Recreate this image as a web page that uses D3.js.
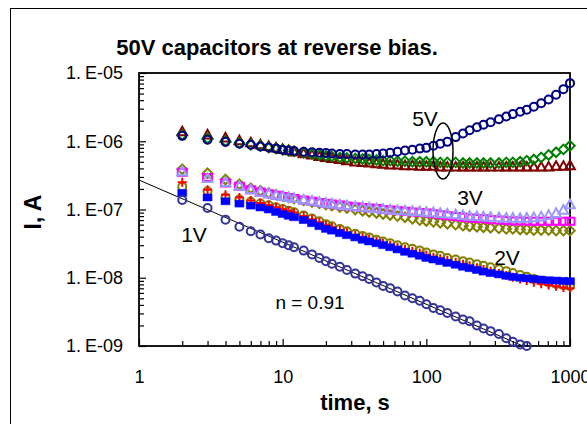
<!DOCTYPE html>
<html>
<head>
  <script src="https://cdn.jsdelivr.net/npm/d3@7"></script>
  <style>
    body { margin: 0; background: white; }
    svg text { font-family: Arial, "Liberation Sans", sans-serif; fill: black; }
  </style>
</head>
<body>
  <script>
    // measurement times, s
    const times = [2, 3, 4, 5, 6, 7, 8, 9, 10, 11, 12, 14, 16, 18, 20, 22, 25, 28, 32, 36, 40, 45, 50, 56, 63, 71, 80, 90,
      100, 112, 125, 140, 160, 180, 200, 225, 250, 280, 320, 360, 400, 450, 500, 560, 630, 710, 800, 900, 1000]

    // 5V
    const v5Circles = [1.2e-6, 1.05e-6, 9.8e-7, 9.2e-7, 8.9e-7, 8.4e-7, 8.1e-7, 7.8e-7, 7.5e-7, 7.3e-7, 7.2e-7, 7.0e-7, 6.9e-7, 6.8e-7,
      6.7e-7, 6.6e-7, 6.5e-7, 6.5e-7, 6.4e-7, 6.4e-7, 6.4e-7, 6.5e-7, 6.6e-7, 6.8e-7, 7.0e-7, 7.3e-7, 7.5e-7, 7.8e-7,
      8.0e-7, 8.6e-7, 9.2e-7, 9.8e-7, 1.15e-6, 1.3e-6, 1.45e-6, 1.6e-6, 1.75e-6, 1.9e-6, 2.1e-6, 2.3e-6, 2.5e-6, 2.7e-6,
      2.9e-6, 3.2e-6, 3.6e-6, 4.1e-6, 4.8e-6, 5.8e-6, 7.1e-6]
    const v5Diamonds = [1.24e-6, 1.1e-6, 1.0e-6, 9.4e-7, 8.9e-7, 8.5e-7, 8.1e-7, 7.8e-7, 7.5e-7, 7.3e-7, 7.1e-7, 6.8e-7, 6.5e-7, 6.3e-7,
      6.1e-7, 6.0e-7, 5.8e-7, 5.7e-7, 5.6e-7, 5.5e-7, 5.4e-7, 5.3e-7, 5.2e-7, 5.2e-7, 5.1e-7, 5.1e-7, 5.0e-7, 5.0e-7,
      5.0e-7, 5.0e-7, 4.9e-7, 4.9e-7, 4.9e-7, 4.8e-7, 4.8e-7, 4.8e-7, 4.8e-7, 4.8e-7, 4.8e-7, 4.9e-7, 4.9e-7, 5.0e-7,
      5.2e-7, 5.4e-7, 5.8e-7, 6.3e-7, 6.9e-7, 7.6e-7, 8.6e-7]
    const v5Triangles = [1.38e-6, 1.24e-6, 1.12e-6, 1.02e-6, 9.5e-7, 8.9e-7, 8.4e-7, 8.0e-7, 7.6e-7, 7.3e-7, 7.0e-7, 6.6e-7, 6.3e-7, 6.0e-7,
      5.8e-7, 5.6e-7, 5.4e-7, 5.2e-7, 5.0e-7, 4.9e-7, 4.8e-7, 4.7e-7, 4.6e-7, 4.5e-7, 4.5e-7, 4.4e-7, 4.4e-7, 4.3e-7,
      4.3e-7, 4.3e-7, 4.2e-7, 4.2e-7, 4.2e-7, 4.2e-7, 4.2e-7, 4.2e-7, 4.2e-7, 4.2e-7, 4.2e-7, 4.2e-7, 4.2e-7, 4.2e-7,
      4.2e-7, 4.2e-7, 4.2e-7, 4.2e-7, 4.3e-7, 4.3e-7, 4.4e-7]

    // 3V
    const v3Squares = [3.5e-7, 2.95e-7, 2.45e-7, 2.2e-7, 1.95e-7, 1.8e-7, 1.7e-7, 1.62e-7, 1.55e-7, 1.5e-7, 1.45e-7, 1.38e-7, 1.32e-7, 1.27e-7,
      1.23e-7, 1.2e-7, 1.16e-7, 1.13e-7, 1.1e-7, 1.07e-7, 1.05e-7, 1.03e-7, 1.0e-7, 9.8e-8, 9.6e-8, 9.4e-8, 9.2e-8, 9.0e-8,
      8.9e-8, 8.7e-8, 8.4e-8, 8.1e-8, 7.9e-8, 7.7e-8, 7.5e-8, 7.4e-8, 7.3e-8, 7.1e-8, 7.0e-8, 6.9e-8, 6.8e-8, 6.8e-8,
      6.7e-8, 6.7e-8, 6.7e-8, 6.7e-8, 6.7e-8, 6.7e-8, 6.7e-8]
    const v3Triangles = [3.6e-7, 2.85e-7, 2.5e-7, 2.2e-7, 1.95e-7, 1.8e-7, 1.7e-7, 1.62e-7, 1.55e-7, 1.5e-7, 1.45e-7, 1.38e-7, 1.33e-7, 1.28e-7,
      1.24e-7, 1.21e-7, 1.17e-7, 1.14e-7, 1.1e-7, 1.08e-7, 1.06e-7, 1.03e-7, 1.01e-7, 9.9e-8, 9.7e-8, 9.6e-8, 9.4e-8, 9.3e-8,
      9.1e-8, 9.0e-8, 8.8e-8, 8.6e-8, 8.4e-8, 8.2e-8, 8.0e-8, 7.9e-8, 7.8e-8, 7.7e-8, 7.6e-8, 7.5e-8, 7.5e-8, 7.4e-8,
      7.5e-8, 7.6e-8, 7.8e-8, 8.2e-8, 8.8e-8, 9.8e-8, 1.18e-7]
    const v3Diamonds = [3.9e-7, 3.4e-7, 2.75e-7, 2.35e-7, 2.05e-7, 1.88e-7, 1.75e-7, 1.65e-7, 1.57e-7, 1.5e-7, 1.45e-7, 1.36e-7, 1.29e-7, 1.23e-7,
      1.18e-7, 1.14e-7, 1.09e-7, 1.05e-7, 1.0e-7, 9.6e-8, 9.2e-8, 8.9e-8, 8.6e-8, 8.3e-8, 8.0e-8, 7.7e-8, 7.3e-8, 7.0e-8,
      6.8e-8, 6.6e-8, 6.4e-8, 6.2e-8, 6.0e-8, 5.8e-8, 5.7e-8, 5.6e-8, 5.5e-8, 5.4e-8, 5.3e-8, 5.2e-8, 5.2e-8, 5.1e-8,
      5.1e-8, 5.0e-8, 5.0e-8, 5.0e-8, 4.9e-8, 4.9e-8, 4.9e-8]

    // 2V
    const v2Squares = [1.75e-7, 1.5e-7, 1.32e-7, 1.22e-7, 1.14e-7, 1.07e-7, 1.0e-7, 9.2e-8, 8.6e-8, 8.1e-8, 7.7e-8, 7.0e-8, 6.3e-8, 5.7e-8,
      5.2e-8, 4.9e-8, 4.5e-8, 4.2e-8, 3.9e-8, 3.6e-8, 3.4e-8, 3.2e-8, 3.0e-8, 2.8e-8, 2.6e-8, 2.4e-8, 2.25e-8, 2.1e-8,
      1.95e-8, 1.85e-8, 1.75e-8, 1.65e-8, 1.55e-8, 1.45e-8, 1.38e-8, 1.3e-8, 1.23e-8, 1.17e-8, 1.12e-8, 1.07e-8, 1.03e-8, 1.0e-8,
      9.8e-9, 9.6e-9, 9.4e-9, 9.2e-9, 9.1e-9, 9.0e-9, 8.9e-9]
    const v2Circles = [2.15e-7, 1.85e-7, 1.5e-7, 1.4e-7, 1.3e-7, 1.22e-7, 1.15e-7, 1.08e-7, 1.02e-7, 9.6e-8, 9.1e-8, 8.2e-8, 7.4e-8, 6.7e-8,
      6.1e-8, 5.7e-8, 5.2e-8, 4.8e-8, 4.4e-8, 4.1e-8, 3.9e-8, 3.6e-8, 3.4e-8, 3.2e-8, 3.0e-8, 2.8e-8, 2.65e-8, 2.5e-8,
      2.35e-8, 2.2e-8, 2.1e-8, 1.95e-8, 1.85e-8, 1.75e-8, 1.67e-8, 1.58e-8, 1.5e-8, 1.42e-8, 1.33e-8, 1.25e-8, 1.17e-8, 1.1e-8,
      1.03e-8, 9.6e-9, 9.0e-9, 8.5e-9, 8.1e-9, 7.8e-9, 7.5e-9]
    const v2Plus = [2.5e-7, 1.95e-7, 1.65e-7, 1.5e-7, 1.35e-7, 1.25e-7, 1.16e-7, 1.08e-7, 1.01e-7, 9.5e-8, 9.0e-8, 8.0e-8, 7.2e-8, 6.5e-8,
      5.9e-8, 5.5e-8, 5.0e-8, 4.6e-8, 4.2e-8, 3.9e-8, 3.7e-8, 3.4e-8, 3.2e-8, 3.0e-8, 2.8e-8, 2.6e-8, 2.45e-8, 2.3e-8,
      2.15e-8, 2.0e-8, 1.9e-8, 1.8e-8, 1.68e-8, 1.58e-8, 1.5e-8, 1.4e-8, 1.32e-8, 1.24e-8, 1.15e-8, 1.08e-8, 1.02e-8, 9.6e-9,
      9.1e-9, 8.6e-9, 8.2e-9, 7.8e-9, 7.5e-9, 7.2e-9, 7.0e-9]

    // 1V (stops at 500 s)
    const v1Circles = [1.38e-7, 1.05e-7, 7.1e-8, 5.6e-8, 4.8e-8, 4.3e-8, 3.8e-8, 3.5e-8, 3.2e-8, 3.0e-8, 2.8e-8, 2.5e-8, 2.2e-8, 1.95e-8,
      1.75e-8, 1.6e-8, 1.45e-8, 1.3e-8, 1.15e-8, 1.05e-8, 9.6e-9, 8.5e-9, 7.6e-9, 7.0e-9, 6.3e-9, 5.5e-9, 5.0e-9, 4.6e-9,
      4.1e-9, 3.6e-9, 3.35e-9, 3.05e-9, 2.7e-9, 2.45e-9, 2.3e-9, 2.0e-9, 1.8e-9, 1.65e-9, 1.5e-9, 1.3e-9, 1.15e-9, 1.05e-9,
      1.0e-9]

    // power-law fit of the 1V curve, n = 0.91
    const fitLine = [[1, 2.7e-7], [470, 1.0e-9]]

    const xTicks = [1, 10, 100, 1000]
    const yTicks = [1e-9, 1e-8, 1e-7, 1e-6, 1e-5]
    const yTickLabels = ['1.E-09', '1.E-08', '1.E-07', '1.E-06', '1.E-05']

    const W = 587, H = 424
    const svg = d3.select('body').append('svg').attr('width', W).attr('height', H)

    // outer chart frame (right and bottom edges are off the picture)
    svg.append('rect').attr('x', 10.5).attr('y', 8.5).attr('width', 700).attr('height', 600)
      .attr('fill', 'white').attr('stroke', 'black').attr('stroke-width', 1)

    const x = d3.scaleLog().domain([1, 1000]).range([139, 570])
    const y = d3.scaleLog().domain([1e-9, 1e-5]).range([346, 73])

    const minor = (lo, hi) => {
      const out = []
      for (let e = lo; e < hi; e++) for (let k = 2; k <= 9; k++) out.push(k * Math.pow(10, e))
      return out
    }

    // minor ticks
    svg.append('g').attr('transform', `translate(${x.range()[0]},0)`)
      .call(d3.axisLeft(y).tickValues(minor(-9, -5)).tickSize(-5).tickSizeOuter(0).tickFormat(''))
      .call(g => g.select('.domain').remove())
    svg.append('g').attr('transform', `translate(0,${y.range()[0]})`)
      .call(d3.axisBottom(x).tickValues(minor(0, 3)).tickSize(-5).tickSizeOuter(0).tickFormat(''))
      .call(g => g.select('.domain').remove())

    // major ticks + labels
    svg.append('g').attr('transform', `translate(${x.range()[0]},0)`)
      .call(d3.axisLeft(y).tickValues(yTicks).tickSize(-7).tickSizeOuter(0).tickPadding(16).tickFormat(''))
      .call(g => g.select('.domain').remove())
      .call(g => g.selectAll('.tick text').each(function (d) {
        const lab = yTickLabels[yTicks.indexOf(d)].split('.')
        const t = d3.select(this).style('font-size', '18px')
        t.append('tspan').text(lab[0] + '.')
        t.append('tspan').attr('dx', 4).text(lab[1])
      }))
    svg.append('g').attr('transform', `translate(0,${y.range()[0]})`)
      .call(d3.axisBottom(x).tickValues(xTicks).tickSize(-7).tickSizeOuter(0).tickPadding(24)
        .tickFormat(d3.format('d')))
      .call(g => g.select('.domain').remove())
      .call(g => g.selectAll('text').style('font-size', '18px'))
    svg.selectAll('.tick line').attr('stroke', 'black').attr('stroke-width', 1.2)

    // plot box
    svg.append('rect')
      .attr('x', x.range()[0]).attr('y', y.range()[1])
      .attr('width', x.range()[1] - x.range()[0]).attr('height', y.range()[0] - y.range()[1])
      .attr('fill', 'none').attr('stroke', 'black').attr('stroke-width', 1.8)

    // fit line
    svg.append('path')
      .attr('d', d3.line().x(d => x(d[0])).y(d => y(d[1]))(fitLine))
      .attr('fill', 'none').attr('stroke', 'black').attr('stroke-width', 1)

    const shapes = {
      circle: d3.symbol().type(d3.symbolCircle).size(Math.PI * 4 * 4)(),
      square: 'M-4.5,-3.5H4.5V3.5H-4.5Z',
      triangle: 'M0,-5L4.8,3.6L-4.8,3.6Z',
      diamond: 'M0,-4.8L4.8,0L0,4.8L-4.8,0Z',
      plus: 'M-4.5,0H4.5M0,-4.5V4.5'
    }

    const series = [
      { values: v5Triangles, shape: 'triangle', color: '#800000' },
      { values: v5Diamonds, shape: 'diamond', color: '#008000' },
      { values: v5Circles, shape: 'circle', color: '#000080' },
      { values: v3Diamonds, shape: 'diamond', color: '#808000' },
      { values: v3Squares, shape: 'square', color: '#FF00FF' },
      { values: v3Triangles, shape: 'triangle', color: '#9999FF' },
      { values: v2Circles, shape: 'circle', color: '#808000' },
      { values: v2Plus, shape: 'plus', color: '#FF0000' },
      { values: v2Squares, shape: 'square', color: '#0000FF', filled: true },
      { values: v1Circles, shape: 'circle', color: '#333399' }
    ]

    series.forEach(s => {
      const pts = s.values.map((v, i) => [times[i], v])
      svg.append('g').selectAll('path').data(pts).join('path')
        .attr('transform', d => `translate(${x(d[0])},${y(d[1])})`)
        .attr('d', shapes[s.shape])
        .attr('fill', s.filled ? s.color : 'none')
        .attr('stroke', s.color)
        .attr('stroke-width', s.filled ? 0.5 : 2)
    })

    // annotations
    const label = (txt, cx, cy, size, bold) => svg.append('text')
      .attr('x', cx).attr('y', cy).attr('text-anchor', 'middle').attr('dominant-baseline', 'central')
      .style('font-size', size + 'px').style('font-weight', bold ? 'bold' : 'normal').text(txt)

    label('5V', 425, 118, 21)
    label('3V', 470, 197, 21)
    label('2V', 507, 257, 21)
    label('1V', 194, 234, 21)
    label('n = 0.91', 310, 302, 19)
    svg.append('ellipse').attr('cx', 443).attr('cy', 151).attr('rx', 10).attr('ry', 28)
      .attr('fill', 'none').attr('stroke', 'black').attr('stroke-width', 1.5)

    label('50V capacitors at reverse bias.', 277, 47, 22, true)
    label('time, s', 355, 402, 22, true)
    svg.append('text').attr('transform', 'translate(33,212) rotate(-90)')
      .attr('text-anchor', 'middle').attr('dominant-baseline', 'central')
      .style('font-size', '23px').style('font-weight', 'bold').text('I, A')
  </script>
</body>
</html>
